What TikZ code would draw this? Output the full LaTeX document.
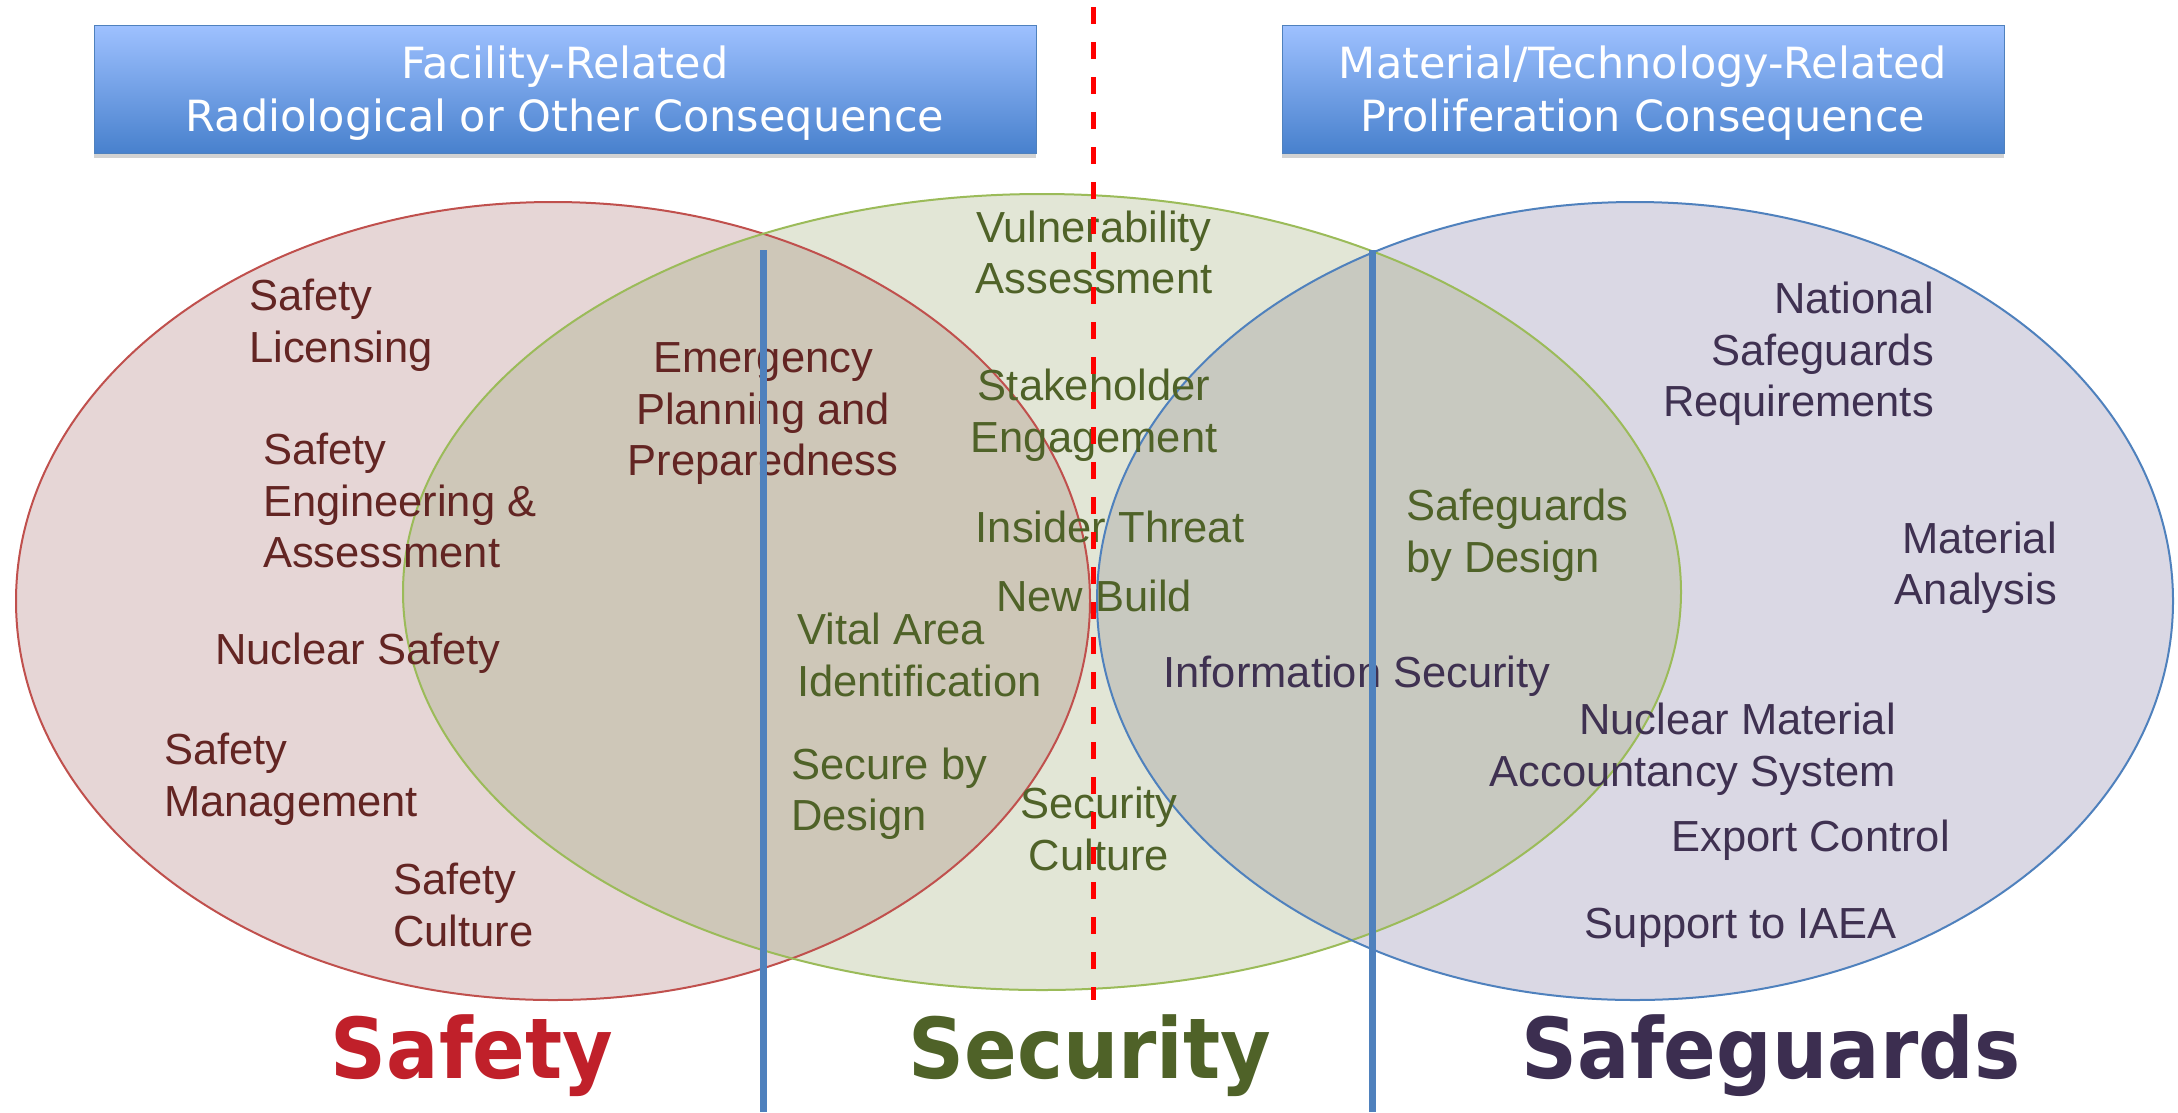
\documentclass[tikz,border=0pt]{standalone}
\usepackage{fontspec}
\setmainfont{Liberation Sans}
\newfontfamily\verd{DejaVu Sans}
\usetikzlibrary{shadows}

\definecolor{sfFill}{RGB}{230,214,214}
\definecolor{scFill}{RGB}{226,230,214}
\definecolor{sgFill}{RGB}{218,216,228}
\definecolor{ovA}{RGB}{206,199,184}
\definecolor{ovB}{RGB}{200,201,192}
\definecolor{sfLine}{RGB}{192,80,77}
\definecolor{scLine}{RGB}{155,187,89}
\definecolor{sgLine}{RGB}{79,129,189}
\definecolor{sfText}{RGB}{99,37,35}
\definecolor{scText}{RGB}{79,98,40}
\definecolor{sgText}{RGB}{63,49,81}
\definecolor{sfBig}{RGB}{192,32,42}
\definecolor{scBig}{RGB}{79,98,40}
\definecolor{sgBig}{RGB}{60,46,80}
\definecolor{boxTop}{RGB}{158,193,255}
\definecolor{boxBot}{RGB}{72,129,205}
\definecolor{boxLine}{RGB}{79,129,189}
\definecolor{divBlue}{RGB}{79,129,189}
\definecolor{dashRed}{RGB}{255,0,0}

\begin{document}
\begin{tikzpicture}[x=1pt,y=-1pt,
  lbl/.style={inner sep=0pt, font=\fontsize{43.5}{51.5}\selectfont},
  sftxt/.style={lbl, text=sfText},
  sctxt/.style={lbl, text=scText},
  sgtxt/.style={lbl, text=sgText},
  titlebox/.style={draw=boxLine, line width=1pt, top color=boxTop, bottom color=boxBot,
    drop shadow={shadow xshift=0pt, shadow yshift=-5pt, opacity=0.35}},
  titletxt/.style={text=white, font=\verd\fontsize{43}{53}\selectfont, align=center, inner sep=0pt},
  bigtxt/.style={inner sep=0pt, anchor=base, font=\verd\bfseries\fontsize{84}{96}\selectfont},
  ellline/.style={line width=2pt},
  divider/.style={divBlue, line width=7pt},
  redline/.style={dashRed, line width=5pt, dash pattern=on 17pt off 18pt}
]
\useasboundingbox (0,0) rectangle (2178,1112);
\fill[white] (0,0) rectangle (2178,1112);

% ellipse fills
\fill[sfFill] (553,601) ellipse [x radius=537pt, y radius=399pt];
\fill[sgFill] (1635,601) ellipse [x radius=538pt, y radius=399pt];
\fill[scFill] (1042,592) ellipse [x radius=639pt, y radius=398pt];
\begin{scope}
  \clip (1042,592) ellipse [x radius=639pt, y radius=398pt];
  \fill[ovA] (553,601) ellipse [x radius=537pt, y radius=399pt];
  \fill[ovB] (1635,601) ellipse [x radius=538pt, y radius=399pt];
\end{scope}
% ellipse borders
\draw[sfLine, ellline] (553,601) ellipse [x radius=537pt, y radius=399pt];
\draw[scLine, ellline] (1042,592) ellipse [x radius=639pt, y radius=398pt];
\draw[sgLine, ellline] (1635,601) ellipse [x radius=538pt, y radius=399pt];

% title boxes
\path[titlebox] (94,25) rectangle (1036,153);
\path[titlebox] (1282,25) rectangle (2004,153);
\node[titletxt] (tleft) at (565,93) {Facility-Related\\Radiological or Other Consequence};
\node[titletxt] (tright) at (1643,93) {Material/Technology-Related\\Proliferation Consequence};

% safety texts
\node[sftxt, anchor=west, align=left] (slic) at (249,325.5) {Safety\\Licensing};
\node[sftxt, anchor=west, align=left] (seng) at (263,500.5) {Safety\\Engineering \&\\Assessment};
\node[sftxt, anchor=west, align=left] (nsaf) at (215,653) {Nuclear Safety};
\node[sftxt, anchor=west, align=left] (sman) at (164,779.5) {Safety\\Management};
\node[sftxt, anchor=west, align=left] (scul) at (393,905) {Safety\\Culture};
\node[sftxt, align=center] (emer) at (763,414) {Emergency\\Planning and\\Preparedness};

% security texts
\node[sctxt, align=center] (vuln) at (1094,252.5) {Vulnerability\\Assessment};
\node[sctxt, align=center] (stak) at (1094,415) {Stakeholder\\Engagement};
\node[sctxt, align=center] (insd) at (1110,527) {Insider Threat};
\node[sctxt, align=center] (nbld) at (1094,596) {New Build};
\node[sctxt, anchor=west, align=left] (vital) at (797,655) {Vital Area\\Identification};
\node[sctxt, anchor=west, align=left] (sbd) at (791,793.5) {Secure by\\Design};
\node[sctxt, align=center] (secc) at (1099,829) {Security\\Culture};
\node[sctxt, anchor=west, align=left] (sgbd) at (1406,535) {Safeguards\\by Design};

% safeguards texts
\node[sgtxt, align=center] (info) at (1357,676) {Information Security};
\node[sgtxt, anchor=east, align=right] (nsr) at (1934,354) {National\\Safeguards\\Requirements};
\node[sgtxt, anchor=east, align=right] (mat) at (2057,567.5) {Material\\Analysis};
\node[sgtxt, anchor=east, align=right] (nmac) at (1896,749) {Nuclear Material\\Accountancy System};
\node[sgtxt, anchor=east, align=right] (expc) at (1950,840) {Export Control};
\node[sgtxt, anchor=east, align=right] (iaea) at (1897,928) {Support to IAEA};

% dividers
\coordinate (b1t) at (763,250);
\coordinate (b1b) at (763,1112);
\coordinate (b2t) at (1372,250);
\coordinate (b2b) at (1372,1112);
\coordinate (rdt) at (1093,7);
\coordinate (rdb) at (1093,1000);
\draw[divider] (b1t) -- (b1b);
\draw[divider] (b2t) -- (b2b);
\draw[redline] (rdt) -- (rdb);

% big labels
\node[bigtxt, text=sfBig] (lsafety) at (472,1078) {\scalebox{0.925}[1]{Safety}};
\node[bigtxt, text=scBig] (lsecurity) at (1090,1078) {\scalebox{0.925}[1]{Security}};
\node[bigtxt, text=sgBig] (lsafeguards) at (1771,1078) {\scalebox{0.925}[1]{Safeguards}};
\end{tikzpicture}
\end{document}
